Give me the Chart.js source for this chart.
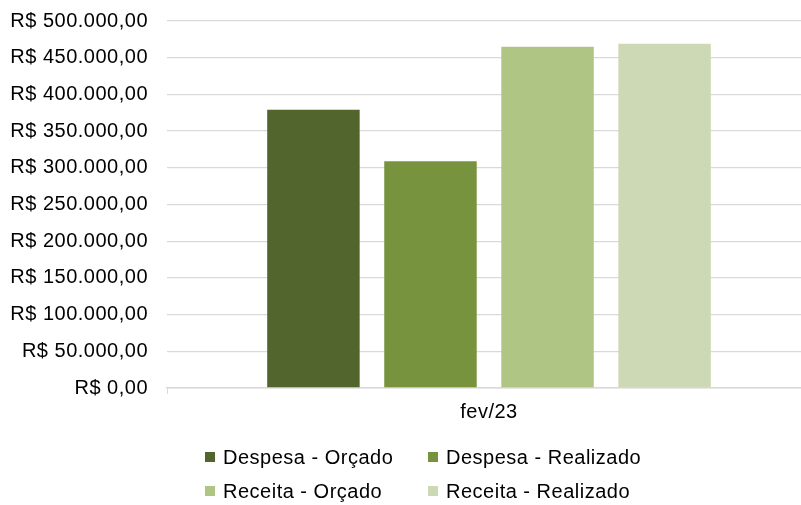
<!DOCTYPE html>
<html>
<head>
<meta charset="utf-8">
<script src="https://cdn.jsdelivr.net/npm/chart.js@4.4.1/dist/chart.umd.min.js"></script>
<style>
  html, body { margin: 0; padding: 0; background: #fff; overflow: hidden; }
  #wrap { width: 811px; height: 505px; }
</style>
</head>
<body>
<div id="wrap"><canvas id="chart" width="811" height="505"></canvas></div>
<script>
const categories = ["fev/23"];
const seriesNames = ["Despesa - Orçado", "Despesa - Realizado", "Receita - Orçado", "Receita - Realizado"];
const seriesValues = [[379000], [309000], [465000], [469000]];
const seriesColors = ["#52652c", "#78933d", "#aec584", "#cdd9b4"];
const yTicks = [0, 50000, 100000, 150000, 200000, 250000, 300000, 350000, 400000, 450000, 500000];

const FONT = "'Liberation Sans', Arial, sans-serif";

// R$ 500.000,00
function brl(v) {
  const parts = Math.round(v).toString().replace(/\B(?=(\d{3})+(?!\d))/g, ".");
  return "R$ " + parts + ",00";
}

// excel text is a bit wider than arial
const wideText = {
  id: "wideText",
  beforeInit(chart) { chart.ctx.letterSpacing = "0.5px"; },
  beforeDraw(chart) { chart.ctx.letterSpacing = "0.5px"; }
};

// two column legend like the excel one
const legendTwoCols = {
  id: "legendTwoCols",
  afterDraw(chart) {
    const ctx = chart.ctx;
    const colX = [205, 428];
    const rowY = [457, 491];
    ctx.save();
    ctx.font = "20px " + FONT;
    ctx.textBaseline = "middle";
    ctx.textAlign = "left";
    chart.data.datasets.forEach((ds, i) => {
      const x = colX[i % 2];
      const y = rowY[Math.floor(i / 2)];
      ctx.fillStyle = ds.backgroundColor;
      ctx.fillRect(x, y - 5, 10, 10);
      ctx.fillStyle = "#000";
      ctx.fillText(ds.label, x + 18, y + 1);
    });
    ctx.restore();
  }
};

const ctx = document.getElementById("chart").getContext("2d");
new Chart(ctx, {
  type: "bar",
  data: {
    labels: categories,
    datasets: seriesNames.map((name, i) => ({
      label: name,
      data: seriesValues[i],
      backgroundColor: seriesColors[i],
      categoryPercentage: 0.727,
      barPercentage: 0.79
    }))
  },
  options: {
    responsive: false,
    animation: false,
    layout: { padding: { top: 21, right: 0, bottom: 77, left: 0 } },
    plugins: {
      legend: { display: false },
      tooltip: { enabled: false }
    },
    scales: {
      x: {
        offset: true,
        grid: {
          offset: true,
          drawOnChartArea: false,
          drawTicks: true,
          tickLength: 6,
          color: "#d9d9d9",
          lineWidth: 1
        },
        border: { display: true, color: "#d9d9d9", width: 1.5 },
        ticks: { color: "#000", font: { family: FONT, size: 20 }, padding: 6 },
        afterFit(scale) {
          scale.height = 40;
          scale.paddingLeft = 0;
          scale.paddingRight = 0;
        }
      },
      y: {
        min: 0,
        max: 500000,
        afterBuildTicks(scale) { scale.ticks = yTicks.map((v) => ({ value: v })); },
        grid: { color: "#d9d9d9", lineWidth: 1.3, drawTicks: false },
        border: { display: false },
        ticks: {
          color: "#000",
          font: { family: FONT, size: 20 },
          padding: 19,
          callback: (v) => brl(v)
        },
        afterFit(scale) {
          scale.width = 167;
          scale.paddingTop = 0;
          scale.paddingBottom = 0;
        }
      }
    }
  },
  plugins: [wideText, legendTwoCols]
});
</script>
</body>
</html>
